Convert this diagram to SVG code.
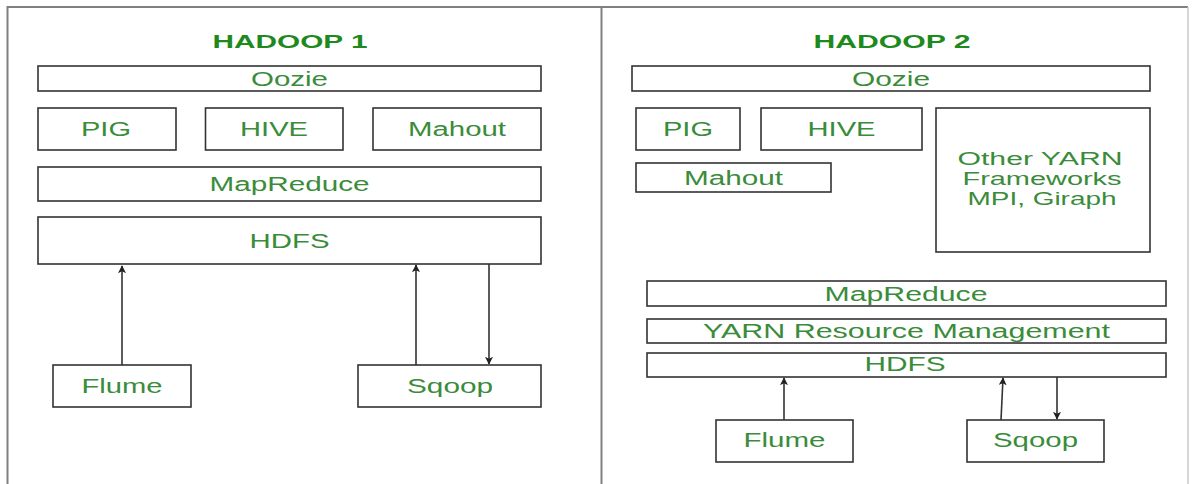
<svg xmlns="http://www.w3.org/2000/svg" width="1195" height="484" viewBox="0 0 1195 484">
<style>
.box{fill:#fff;stroke:#333;stroke-width:1.6}
.lbl{font-family:"Liberation Sans",Arial,sans-serif;font-size:19.5px;fill:#3a8c3a;text-anchor:middle}
.sm{font-size:17.5px}
.ttl{font-family:"Liberation Sans",Arial,sans-serif;font-size:17.5px;font-weight:bold;fill:#1e8a1e;text-anchor:middle}
.frame{stroke:#808080;stroke-width:2;fill:none}
.conn{stroke:#333;stroke-width:1.6;fill:none}
</style>
<defs>
<marker id="ah" viewBox="0 0 10 10" refX="9" refY="5" markerWidth="8" markerHeight="8" markerUnits="userSpaceOnUse" orient="auto">
<path d="M0,0 L10,5 L0,10 L2.5,5 Z" fill="#222"/>
</marker>
</defs>
<rect width="1195" height="484" fill="#fff"/>
<g id="frame">
<path class="frame" d="M7.5,484 V7 H1188"/>
<path class="frame" d="M601.5,7 V484"/>
<path d="M1188,7 V484" stroke="#c8c8c8" stroke-width="1.5"/>
</g>
<g id="title1"><text class="ttl" x="290" y="47.5" textLength="155" lengthAdjust="spacingAndGlyphs">HADOOP 1</text></g>
<g id="title2"><text class="ttl" x="892" y="47.5" textLength="157" lengthAdjust="spacingAndGlyphs">HADOOP 2</text></g>
<g id="h1-oozie"><rect class="box" x="38" y="66" width="503" height="25"/><text class="lbl" x="289.5" y="85.5" textLength="77" lengthAdjust="spacingAndGlyphs">Oozie</text></g>
<g id="h1-pig"><rect class="box" x="38" y="108" width="138" height="42"/><text class="lbl" x="106" y="135.5" textLength="50" lengthAdjust="spacingAndGlyphs">PIG</text></g>
<g id="h1-hive"><rect class="box" x="205.5" y="108" width="137.5" height="42"/><text class="lbl" x="274" y="135.5" textLength="68" lengthAdjust="spacingAndGlyphs">HIVE</text></g>
<g id="h1-mahout"><rect class="box" x="373" y="108" width="168" height="42"/><text class="lbl" x="457" y="135.5" textLength="98" lengthAdjust="spacingAndGlyphs">Mahout</text></g>
<g id="h1-mapreduce"><rect class="box" x="38" y="167" width="503" height="34"/><text class="lbl" x="289.5" y="191" textLength="160" lengthAdjust="spacingAndGlyphs">MapReduce</text></g>
<g id="h1-hdfs"><rect class="box" x="38" y="217" width="503" height="47"/><text class="lbl" x="289.5" y="247.5" textLength="80" lengthAdjust="spacingAndGlyphs">HDFS</text></g>
<g id="h1-flume"><rect class="box" x="53" y="365" width="138" height="42"/><text class="lbl" x="122" y="393" textLength="81" lengthAdjust="spacingAndGlyphs">Flume</text></g>
<g id="h1-sqoop"><rect class="box" x="358" y="365" width="183" height="42"/><text class="lbl" x="450" y="392.5" textLength="86" lengthAdjust="spacingAndGlyphs">Sqoop</text></g>
<g id="h2-oozie"><rect class="box" x="632" y="66" width="518" height="25"/><text class="lbl" x="891" y="85.5" textLength="78" lengthAdjust="spacingAndGlyphs">Oozie</text></g>
<g id="h2-pig"><rect class="box" x="636" y="108" width="104" height="42"/><text class="lbl" x="688" y="135.5" textLength="50" lengthAdjust="spacingAndGlyphs">PIG</text></g>
<g id="h2-hive"><rect class="box" x="761" y="108" width="161" height="42"/><text class="lbl" x="841.5" y="135.5" textLength="68" lengthAdjust="spacingAndGlyphs">HIVE</text></g>
<g id="h2-mahout"><rect class="box" x="636" y="163" width="195" height="29"/><text class="lbl" x="733.5" y="184.5" textLength="99" lengthAdjust="spacingAndGlyphs">Mahout</text></g>
<g id="h2-other"><rect class="box" x="936" y="108" width="214" height="144"/>
<text class="lbl sm" x="1040" y="165" textLength="165" lengthAdjust="spacingAndGlyphs">Other YARN</text>
<text class="lbl sm" x="1042" y="185" textLength="159" lengthAdjust="spacingAndGlyphs">Frameworks</text>
<text class="lbl sm" x="1042" y="204.5" textLength="149" lengthAdjust="spacingAndGlyphs">MPI, Giraph</text></g>
<g id="h2-mapreduce"><rect class="box" x="647" y="281" width="519" height="25"/><text class="lbl" x="906" y="300.5" textLength="163" lengthAdjust="spacingAndGlyphs">MapReduce</text></g>
<g id="h2-yarn"><rect class="box" x="647" y="319" width="519" height="24"/><text class="lbl" x="906.5" y="337.5" textLength="407" lengthAdjust="spacingAndGlyphs">YARN Resource Management</text></g>
<g id="h2-hdfs"><rect class="box" x="647" y="353" width="519" height="24"/><text class="lbl" x="905" y="371" textLength="81" lengthAdjust="spacingAndGlyphs">HDFS</text></g>
<g id="h2-flume"><rect class="box" x="716" y="420" width="137" height="42"/><text class="lbl" x="784.5" y="447" textLength="82" lengthAdjust="spacingAndGlyphs">Flume</text></g>
<g id="h2-sqoop"><rect class="box" x="967" y="420" width="137" height="42"/><text class="lbl" x="1035.5" y="447" textLength="85" lengthAdjust="spacingAndGlyphs">Sqoop</text></g>
<g id="connectors">
<path class="conn" d="M122,365 V266" marker-end="url(#ah)"/>
<path class="conn" d="M416,365 V265" marker-end="url(#ah)"/>
<path class="conn" d="M489,264 V364" marker-end="url(#ah)"/>
<path class="conn" d="M784,420 V378" marker-end="url(#ah)"/>
<path class="conn" d="M1001,420 L1003,378" marker-end="url(#ah)"/>
<path class="conn" d="M1057,377 V419" marker-end="url(#ah)"/>
</g>
</svg>
